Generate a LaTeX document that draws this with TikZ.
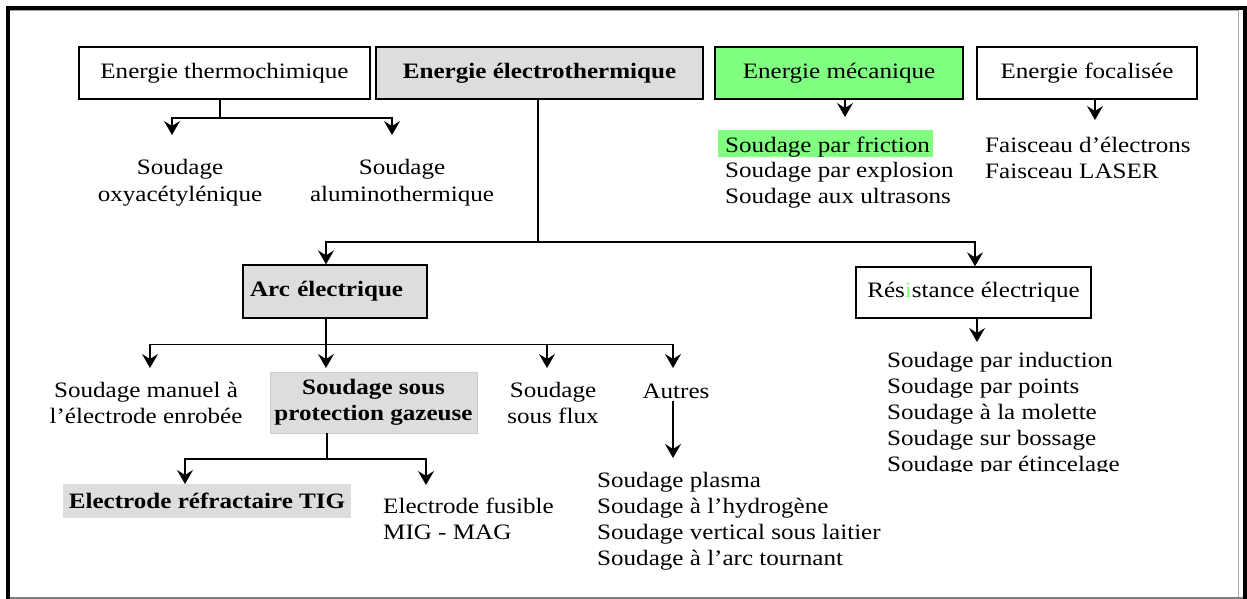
\documentclass[tikz,border=0pt]{standalone}
\usepackage{fontspec}
\setmainfont{Liberation Serif}[FakeStretch=1.14]
\usetikzlibrary{arrows.meta,calc}
\definecolor{boxgray}{RGB}{221,221,221}
\definecolor{mgreen}{RGB}{128,255,128}
\newcommand\mlines[2][c]{\begin{tabular}[t]{@{}#1@{}}#2\end{tabular}}
\begin{document}
\begin{tikzpicture}[x=1pt,y=-1pt,
  every node/.style={font=\fontsize{22}{26}\selectfont, inner sep=0pt},
  bf/.style={font=\fontsize{22}{26}\selectfont\bfseries},
  topbox/.style={draw, line width=2.2pt, minimum height=52pt},
  midbox/.style={draw, line width=1.3pt, minimum height=52pt},
  conn/.style={line width=1.3pt},
  arr/.style={line width=1.3pt, -{Stealth[length=14pt,width=16pt,inset=5pt]}},
  txt/.style={anchor=base},
  ltxt/.style={anchor=base west}]
\useasboundingbox (0,0) rectangle (1247,599);
% frame
\draw[gray!70, line width=0.8pt] (10,10.5) -- (1238,10.5) -- (1238,597);
\draw[gray, line width=1.5pt] (8,598) -- (1245,598);
\draw[line width=4pt] (8,610) -- (8,8) -- (1245,8) -- (1245,610);

% top boxes
\node[topbox, minimum width=291pt] (thermo) at (224.5,73) {Energie thermochimique};
\node[topbox, fill=boxgray, minimum width=327pt, bf] (electro) at (539.5,73) {Energie électrothermique};
\node[topbox, fill=mgreen, minimum width=248pt] (meca) at (839,73) {Energie mécanique};
\node[topbox, minimum width=220pt] (focal) at (1087,73) {Energie focalisée};

% thermochimique
\node[txt] (oxy) at (180,175) {\mlines{Soudage\\oxyacétylénique}};
\node[txt] (alu) at (402,175) {\mlines{Soudage\\aluminothermique}};
\coordinate (oxyT) at (172,135);
\coordinate (aluT) at (392,135);
\draw[conn] ([xshift=-4.5pt]thermo.south) -- ++(0,18) coordinate (thJ);
\draw[arr] (thJ) -| (oxyT);
\draw[arr] (thJ) -| (aluT);

% mecanique
\coordinate (mecaT) at (845,117);
\draw[arr] (meca.south -| mecaT) -- (mecaT);
\node[ltxt, fill=mgreen, text height=22pt, text depth=5pt, inner xsep=7pt] (fric) at (718,152) {\makebox[201pt][l]{Soudage par friction}};
\node[ltxt] (expl) at (725,177) {\mlines[l]{Soudage par explosion\\Soudage aux ultrasons}};

% focalisee
\coordinate (focT) at (1095,120);
\draw[arr] (focal.south -| focT) -- (focT);
\node[ltxt] (faisc) at (985,152) {\mlines[l]{Faisceau d’électrons\\Faisceau LASER}};

% electrothermique
\node[midbox, fill=boxgray, minimum width=184pt, minimum height=53pt, text width=170pt, inner xsep=7pt, align=left, bf] (arc) at (335,291.5) {Arc électrique};
\node[midbox, minimum width=235pt, minimum height=51pt] (res) at (973.5,292.5) {Rés\textcolor{mgreen}{i}stance électrique};
\draw[conn] ([xshift=-1.5pt]electro.south) -- ++(0,142) coordinate (elJ);
\draw[arr] (elJ) -| ([xshift=-9pt]arc.north);
\draw[arr] (elJ) -| ([xshift=1.5pt]res.north);

% resistance
\coordinate (resT) at (977,342);
\draw[arr] (res.south -| resT) -- (resT);
\begin{scope}
\clip (850,340) rectangle (1200,471);
\node[ltxt] (reslist) at (887,367) {\mlines[l]{Soudage par induction\\Soudage par points\\Soudage à la molette\\Soudage sur bossage\\Soudage par étincelage}};
\end{scope}

% arc electrique children
\node[txt] (manuel) at (146,397) {\mlines{Soudage manuel à\\l’électrode enrobée}};
\node[draw=gray!40, line width=0.8pt, fill=boxgray, minimum width=207pt, minimum height=61pt, bf] (gaz) at (373.5,402.5) {\mlines{Soudage sous\\protection gazeuse}};
\node[txt] (flux) at (553,397) {\mlines{Soudage\\sous flux}};
\node[txt, inner sep=3pt] (autres) at (676,398) {Autres};
\coordinate (manT) at (150,368);
\coordinate (gazT) at (326,368);
\coordinate (fluxT) at (547,368);
\coordinate (autT) at (673,368);
\draw[conn] ([xshift=-9pt]arc.south) -- ++(0,26) coordinate (arJ);
\draw[arr] (arJ) -| (manT);
\draw[arr] (arJ) -- (gazT);
\draw[arr] (arJ) -| (fluxT);
\draw[arr] (arJ) -| (autT);

% autres
\coordinate (autL) at (673,458);
\draw[arr] (autres.south -| autL) -- (autL);
\node[ltxt] (autlist) at (597,487) {\mlines[l]{Soudage plasma\\Soudage à l’hydrogène\\Soudage vertical sous laitier\\Soudage à l’arc tournant}};

% gazeuse children
\node[fill=boxgray, minimum width=288pt, minimum height=34pt, bf] (tig) at (207,501) {Electrode réfractaire TIG};
\node[ltxt] (fus) at (383,513) {\mlines[l]{Electrode fusible\\MIG - MAG}};
\coordinate (gzJ) at (327,459);
\coordinate (tigT) at (185,484);
\coordinate (fusT) at (426,485);
\draw[conn] (gaz.south -| gzJ) -- (gzJ);
\draw[arr] (gzJ) -| (tigT);
\draw[arr] (gzJ) -| (fusT);
\end{tikzpicture}
\end{document}
